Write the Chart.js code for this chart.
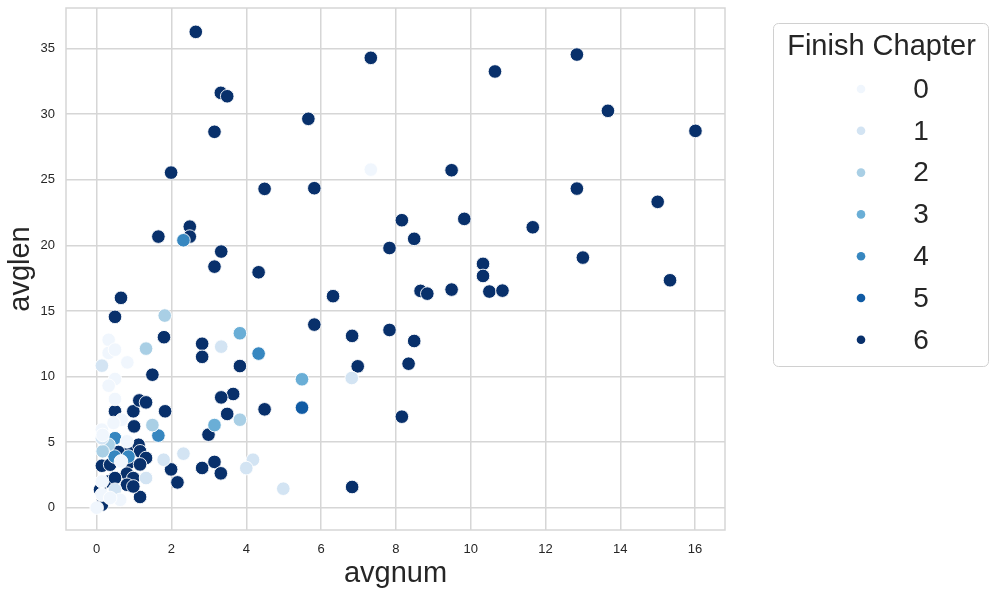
<!DOCTYPE html>
<html>
<head>
<meta charset="utf-8">
<script src="https://cdn.jsdelivr.net/npm/chart.js@4/dist/chart.umd.min.js"></script>
<style>
  html, body { margin: 0; padding: 0; background: #fff; }
  #wrap { width: 997px; height: 596px; position: relative; }
</style>
</head>
<body>
<div id="wrap"><canvas id="chart" width="997" height="596"></canvas></div>
<script>
// --- data: [avgnum, avglen] per finish chapter ---
const finish0 = [[7.33,25.78],[0.32,12.8],[0.32,11.8],[0.49,12.05],[0.82,11.08],[0.49,9.81],[0.32,9.3],
  [0.49,8.29],[0.67,6.7],[0.14,5.95],[0.45,6.46],[0.81,5.06],[0.65,3.53],[0.14,2.0],[0.14,1.0],
  [0.63,0.6],[0.36,0.74],[0.0,0.0],[0.16,5.55]];
const finish1 = [[3.33,12.28],[6.82,9.89],[4.18,3.66],[4.0,3.02],[4.99,1.45],[2.32,4.12],[1.79,3.66],
  [1.32,2.26],[0.49,1.37],[0.14,10.83],[0.14,5.3]];
const finish2 = [[1.82,14.65],[1.32,12.13],[1.49,6.3],[3.83,6.71],[0.32,4.8],[0.16,4.3]];
const finish3 = [[5.49,9.79],[3.83,13.3],[3.15,6.3]];
const finish4 = [[4.33,11.75],[2.32,20.39],[1.65,5.5],[0.49,5.3],[0.48,3.9],[0.85,3.9]];
const finish5 = [[5.49,7.63]];
const finish6 = [[2.65,36.28],[7.33,34.3],[12.84,34.55],[10.65,33.26],[3.32,31.63],[3.49,31.37],
  [13.67,30.26],[5.66,29.65],[3.15,28.66],[16.01,28.73],[1.99,25.55],[9.49,25.73],[4.49,24.31],
  [5.82,24.36],[12.84,24.33],[15.0,23.32],[2.49,21.43],[2.49,20.67],[1.65,20.67],[8.16,21.92],
  [9.83,22.02],[11.66,21.38],[7.83,19.8],[3.33,19.53],[8.49,20.5],[13.0,19.07],[3.15,18.38],
  [4.33,17.95],[10.33,18.59],[10.33,17.67],[15.33,17.34],[6.32,16.13],[0.65,16.0],[8.66,16.53],
  [8.84,16.32],[9.49,16.63],[10.5,16.48],[10.85,16.55],[0.49,14.55],[5.82,13.96],[1.8,13.0],
  [6.83,13.1],[7.83,13.55],[8.49,12.71],[2.82,12.5],[2.82,11.5],[6.98,10.78],[8.34,10.98],
  [1.49,10.14],[3.83,10.8],[3.65,8.67],[3.33,8.41],[3.49,7.15],[4.49,7.5],[0.49,7.35],[0.98,7.35],
  [1.83,7.35],[1.14,8.18],[1.32,8.03],[8.16,6.94],[2.99,5.57],[3.15,3.49],[2.82,3.03],[1.99,2.92],
  [3.32,2.62],[2.16,1.93],[6.83,1.58],[1.16,0.82],[1.0,6.2],[0.81,4.5],[1.12,4.8],[1.16,4.3],
  [1.32,3.79],[0.58,4.25],[0.14,3.2],[0.36,3.28],[0.85,3.4],[1.16,3.3],[0.81,2.6],[0.32,2.0],
  [0.49,2.26],[0.98,2.26],[0.81,1.75],[0.98,1.62],[0.14,0.23],[0.09,1.37]];

const chapters = ['0', '1', '2', '3', '4', '5', '6'];
const series = [finish0, finish1, finish2, finish3, finish4, finish5, finish6];
const blues = ['#f0f6fd', '#d3e4f3', '#a9cfe5', '#6aaed6', '#3787c0', '#105ba4', '#08306b'];

const xTicks = [0, 2, 4, 6, 8, 10, 12, 14, 16];
const yTicks = [0, 5, 10, 15, 20, 25, 30, 35];

const FONT = '"Liberation Sans", Arial, sans-serif';
const GRID = '#d6d6d6';

// frame round the plot + legend box on the right
const extras = {
    id: 'extras',
    afterDraw(chart) {
        const c = chart.ctx;
        const a = chart.chartArea;
        c.save();
        c.strokeStyle = GRID;
        c.lineWidth = 1.5;
        c.strokeRect(a.left, a.top, a.right - a.left, a.bottom - a.top);

        // legend
        const lx = 773, ly = 23, lw = 215, lh = 343;
        c.strokeStyle = '#d0d0d0';
        c.lineWidth = 1;
        c.beginPath();
        c.roundRect(lx + 0.5, ly + 0.5, lw, lh, 5);
        c.stroke();
        c.fillStyle = '#262626';
        c.font = '29px ' + FONT;
        c.textAlign = 'center';
        c.textBaseline = 'middle';
        c.fillText('Finish Chapter', lx + lw / 2 + 1, 47);
        c.font = '28px ' + FONT;
        chapters.forEach((lab, i) => {
            const y = 89 + i * 41.8;
            c.beginPath();
            c.arc(861, y, 4.3, 0, Math.PI * 2);
            c.fillStyle = blues[i];
            c.fill();
            c.fillStyle = '#262626';
            c.fillText(lab, 921, y + 1);
        });
        c.restore();
    }
};

new Chart(document.getElementById('chart'), {
    type: 'scatter',
    data: {
        datasets: series.map((pts, i) => ({
            label: chapters[i],
            data: pts.map(p => ({ x: p[0], y: p[1] })),
            backgroundColor: blues[i],
            borderColor: '#ffffff',
            borderWidth: 0.9,
            pointRadius: 6.8,
        }))
    },
    options: {
        responsive: false,
        animation: false,
        events: [],
        layout: { padding: { top: 8, right: 272, left: 0, bottom: 0 } },
        plugins: { legend: { display: false }, tooltip: { enabled: false } },
        scales: {
            x: {
                type: 'linear',
                min: -0.82,
                max: 16.8,
                afterBuildTicks: s => { s.ticks = xTicks.map(v => ({ value: v })); },
                afterFit: s => { s.height = 66; s.paddingLeft = 0; s.paddingRight = 0; },
                grid: { color: GRID, lineWidth: 1.5, drawTicks: false },
                border: { display: false },
                ticks: { padding: 12, color: '#262626', font: { family: FONT, size: 13 } },
                title: { display: true, text: 'avgnum', color: '#262626',
                         font: { family: FONT, size: 29 }, padding: { top: 0, bottom: 5 } }
            },
            y: {
                type: 'linear',
                min: -1.7,
                max: 38.1,
                afterBuildTicks: s => { s.ticks = yTicks.map(v => ({ value: v })); },
                afterFit: s => { s.width = 66; s.paddingTop = 0; s.paddingBottom = 0; },
                grid: { color: GRID, lineWidth: 1.5, drawTicks: false },
                border: { display: false },
                ticks: { padding: 11, color: '#262626', font: { family: FONT, size: 13 } },
                title: { display: true, text: 'avglen', color: '#262626',
                         font: { family: FONT, size: 29 }, padding: { top: 4, bottom: 0 } }
            }
        }
    },
    plugins: [extras]
});
</script>
</body>
</html>
